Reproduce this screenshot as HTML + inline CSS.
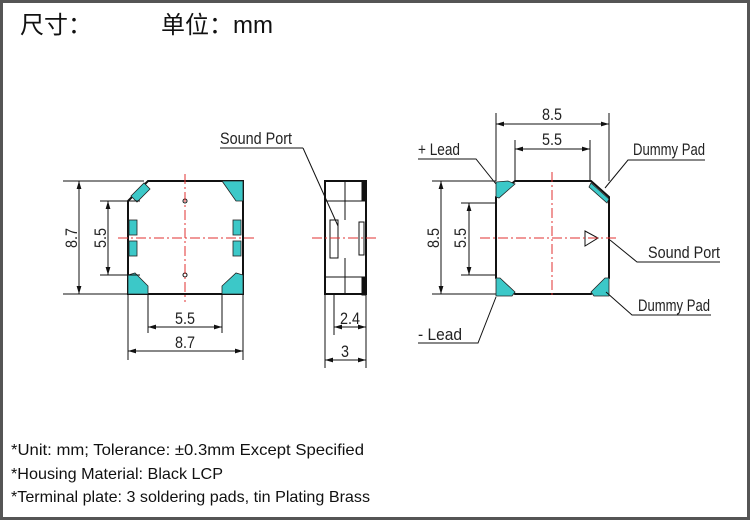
<!DOCTYPE html>
<html><head><meta charset="utf-8"><style>
html,body{margin:0;padding:0;background:#fff}
svg{display:block}
.d{font-family:"Liberation Sans",sans-serif;font-size:17px;fill:#222}
.f{font-family:"Liberation Sans",sans-serif;font-size:16px;fill:#111}
</style></head><body>
<svg width="750" height="520" viewBox="0 0 750 520" xmlns="http://www.w3.org/2000/svg">
<rect x="1.5" y="1.5" width="747" height="517" fill="#fff" stroke="#555" stroke-width="3"/>
<text x="20" y="33" font-family="'Liberation Sans','Noto Sans CJK SC',sans-serif" font-size="24" fill="#111">尺寸：</text>
<text x="161" y="33" font-family="'Liberation Sans','Noto Sans CJK SC',sans-serif" font-size="24" fill="#111">单位：mm</text>

<defs>
<marker id="a" viewBox="0 0 10 6" refX="10" refY="3" markerWidth="8" markerHeight="5" orient="auto-start-reverse"><path d="M0,0L10,3L0,6z" fill="#111"/></marker>
</defs>

<g stroke="#111" fill="none" stroke-width="1">
<path d="M128,201 L148,181 L243,181 L243,294 L128,294 Z" stroke-width="2"/>
</g>
<g fill="#3cc8c8" stroke="#222" stroke-width="0.8">
<polygon points="131,196 144,183 150,189 137,202"/>
<polygon points="222,181 243,181 243,201 236,201"/>
<polygon points="128,294 128,275 135,273 148,286 148,294"/>
<polygon points="243,294 243,275 236,273 222,286 222,294"/>
<rect x="129" y="220" width="8" height="15"/><rect x="129" y="241" width="8" height="15"/>
<rect x="233" y="220" width="8" height="15"/><rect x="233" y="241" width="8" height="15"/>
</g>
<g stroke="#111" fill="none" stroke-width="1">
<circle cx="185" cy="201" r="2"/><circle cx="185" cy="275" r="2"/>
<line x1="63" y1="181" x2="144" y2="181"/><line x1="63" y1="294" x2="128" y2="294"/>
<line x1="79" y1="181" x2="79" y2="294" marker-start="url(#a)" marker-end="url(#a)"/>
<line x1="100" y1="201" x2="140" y2="201"/><line x1="100" y1="275" x2="140" y2="275"/>
<line x1="108" y1="201" x2="108" y2="275" marker-start="url(#a)" marker-end="url(#a)"/>
<line x1="148" y1="294" x2="148" y2="333"/><line x1="222" y1="294" x2="222" y2="333"/>
<line x1="148" y1="327" x2="222" y2="327" marker-start="url(#a)" marker-end="url(#a)"/>
<line x1="128" y1="294" x2="128" y2="360"/><line x1="243" y1="294" x2="243" y2="360"/>
<line x1="128" y1="351" x2="243" y2="351" marker-start="url(#a)" marker-end="url(#a)"/>
<rect x="325" y="181" width="41" height="113" stroke-width="2"/>
<line x1="345" y1="181" x2="345" y2="220"/><line x1="345" y1="258" x2="345" y2="294"/>
<line x1="325" y1="201" x2="366" y2="201"/><line x1="325" y1="277" x2="366" y2="277"/>
<rect x="330" y="220" width="8" height="38"/>
<rect x="359" y="222" width="5" height="33"/>
<rect x="362" y="182" width="4" height="18" fill="#111"/><rect x="362" y="278" width="4" height="17" fill="#111"/>
<line x1="334" y1="294" x2="334" y2="335"/><line x1="325" y1="294" x2="325" y2="368"/><line x1="366" y1="294" x2="366" y2="368"/>
<line x1="334" y1="327" x2="366" y2="327" marker-start="url(#a)" marker-end="url(#a)"/>
<line x1="325" y1="360" x2="366" y2="360" marker-start="url(#a)" marker-end="url(#a)"/>
<line x1="220" y1="148" x2="303" y2="148"/><line x1="303" y1="148" x2="338" y2="226"/>
<path d="M496,197 L515,181 L591,181 L609,197 L609,278 L591,294 L515,294 L496,278 Z" stroke-width="2"/>
</g>
<g fill="#3cc8c8" stroke="#222" stroke-width="0.8">
<polygon points="496,182 508,181 515,184 499,198 496,197"/>
<polygon points="591,183 609,199 607,203 589,187"/>
<polygon points="496,278 500,278 515,292 512,296 496,296"/>
<polygon points="609,278 605,278 591,292 594,296 609,296"/>
</g>
<g stroke="#111" fill="none" stroke-width="1">
<polygon points="585,231 598,238 585,246"/>
<line x1="496" y1="113" x2="496" y2="181"/><line x1="609" y1="113" x2="609" y2="181"/>
<line x1="496" y1="124" x2="609" y2="124" marker-start="url(#a)" marker-end="url(#a)"/>
<line x1="515" y1="140" x2="515" y2="181"/><line x1="590" y1="140" x2="590" y2="181"/>
<line x1="515" y1="149" x2="590" y2="149" marker-start="url(#a)" marker-end="url(#a)"/>
<line x1="432" y1="181" x2="496" y2="181"/><line x1="432" y1="294" x2="496" y2="294"/>
<line x1="441" y1="181" x2="441" y2="294" marker-start="url(#a)" marker-end="url(#a)"/>
<line x1="461" y1="203" x2="496" y2="203"/><line x1="461" y1="275" x2="496" y2="275"/>
<line x1="469" y1="203" x2="469" y2="275" marker-start="url(#a)" marker-end="url(#a)"/>
<polyline points="418,159 476,159 496,184"/>
<polyline points="705,160 628,160 605,188"/>
<polyline points="720,262 637,262 610,240"/>
<polyline points="711,315 632,315 606,292"/>
<polyline points="418,343 478,343 496,297"/>
</g>
<g stroke="#e03030" stroke-width="1" stroke-dasharray="10,3,2,3" fill="none">
<line x1="118" y1="238" x2="256" y2="238"/><line x1="185" y1="174" x2="185" y2="302"/>
<line x1="312" y1="238" x2="376" y2="238"/>
<line x1="480" y1="238" x2="618" y2="238"/><line x1="552" y1="172" x2="552" y2="296"/>
</g>
<g class="d">
<text transform="translate(77,238) rotate(-90)" text-anchor="middle" textLength="20" lengthAdjust="spacingAndGlyphs">8.7</text>
<text transform="translate(106,238) rotate(-90)" text-anchor="middle" textLength="20" lengthAdjust="spacingAndGlyphs">5.5</text>
<text x="185" y="324" text-anchor="middle" textLength="20" lengthAdjust="spacingAndGlyphs">5.5</text>
<text x="185" y="348" text-anchor="middle" textLength="20" lengthAdjust="spacingAndGlyphs">8.7</text>
<text x="350" y="324" text-anchor="middle" textLength="20" lengthAdjust="spacingAndGlyphs">2.4</text>
<text x="345" y="357" text-anchor="middle" textLength="8" lengthAdjust="spacingAndGlyphs">3</text>
<text x="220" y="144" textLength="72" lengthAdjust="spacingAndGlyphs">Sound Port</text>
<text x="552" y="120" text-anchor="middle" textLength="20" lengthAdjust="spacingAndGlyphs">8.5</text>
<text x="552" y="145" text-anchor="middle" textLength="20" lengthAdjust="spacingAndGlyphs">5.5</text>
<text transform="translate(439,238) rotate(-90)" text-anchor="middle" textLength="20" lengthAdjust="spacingAndGlyphs">8.5</text>
<text transform="translate(466,238) rotate(-90)" text-anchor="middle" textLength="20" lengthAdjust="spacingAndGlyphs">5.5</text>
<text x="418" y="155" textLength="42" lengthAdjust="spacingAndGlyphs">+ Lead</text>
<text x="633" y="155" textLength="72" lengthAdjust="spacingAndGlyphs">Dummy Pad</text>
<text x="648" y="258" textLength="72" lengthAdjust="spacingAndGlyphs">Sound Port</text>
<text x="638" y="311" textLength="72" lengthAdjust="spacingAndGlyphs">Dummy Pad</text>
<text x="418" y="340" textLength="44" lengthAdjust="spacingAndGlyphs">- Lead</text>
</g>
<g class="f">
<text x="11" y="455" textLength="353" lengthAdjust="spacingAndGlyphs">*Unit: mm; Tolerance:  ±0.3mm Except Specified</text>
<text x="11" y="479" textLength="212" lengthAdjust="spacingAndGlyphs">*Housing Material: Black LCP</text>
<text x="11" y="502" textLength="359" lengthAdjust="spacingAndGlyphs">*Terminal plate: 3 soldering pads, tin Plating Brass</text>
</g>
</svg>
</body></html>
